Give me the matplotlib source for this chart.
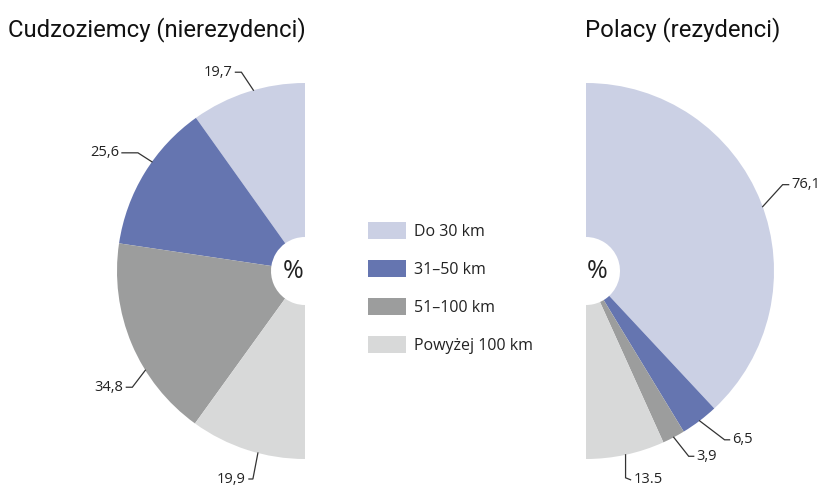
import numpy as np
import matplotlib
matplotlib.use("Agg")
import matplotlib.pyplot as plt

# ---- data ----
categories = ["Do 30 km", "31\u201350 km", "51\u2013100 km", "Powy\u017cej 100 km"]
left_title = "Cudzoziemcy (nierezydenci)"
right_title = "Polacy (rezydenci)"
left_values = [19.7, 25.6, 34.8, 19.9]
right_values = [76.1, 6.5, 3.9, 13.5]
left_labels = ["19,7", "25,6", "34,8", "19,9"]
right_labels = ["76,1", "6,5", "3,9", "13.5"]

# ---- style ----
colors = ["#CBD0E4", "#6575B0", "#9C9D9D", "#D8D9D9"]
W, H = 821, 488
R = 188
HOLE = 34
CY = H - 271
LCX, RCX = 305, 586
TXT = "#222222"

fig = plt.figure(figsize=(W / 100, H / 100), dpi=100)
fig.patch.set_facecolor("white")
ax = fig.add_axes([0, 0, 1, 1])

def half_pie(vals, cx, ccw):
    v = np.asarray(vals, float)
    fr = v / (2 * v.sum())
    wedges, _ = ax.pie(fr, normalize=False, colors=colors, startangle=90,
                       counterclock=ccw, center=(cx, CY), radius=R,
                       wedgeprops=dict(width=R - HOLE, linewidth=0))
    return wedges, fr

lw, lfr = half_pie(left_values, LCX, True)
rw, rfr = half_pie(right_values, RCX, False)

ax.set_xlim(0, W)
ax.set_ylim(0, H)
ax.set_aspect("equal")
ax.axis("off")

# leader lines and labels
def labels(fr, cx, ccw, texts, shifts, elbows, ticks):
    cum = np.cumsum(fr) - fr / 2
    for f, t, sh, (ex, ey), tk in zip(cum, texts, shifts, elbows, ticks):
        ang = 90 + (360 * f if ccw else -360 * f) + sh
        a = np.deg2rad(ang)
        ax_, ay_ = cx + R * np.cos(a), CY + R * np.sin(a)
        bx, by = ax_ + ex, ay_ - ey
        cx2, cy2 = bx + tk[0], by - tk[1]
        ax.plot([ax_, bx, cx2], [ay_, by, cy2], color="#333333", lw=0.9,
                solid_joinstyle="miter")
        sign = 1 if tk[0] > 0 else -1
        ax.text(cx2 + sign * 3, cy2, t, ha="left" if sign > 0 else "right",
                va="center", fontsize=10.5, color=TXT, family="Open Sans")

labels(lfr, LCX, True, left_labels,
       [-1.8, -4, 9, 3.4],
       [(-12, -18), (-14, -9), (-13, 17), (-5, 26)],
       [(-6, 0), (-16, 0), (-6, 0), (-4, 0)])
labels(rfr, RCX, False, right_labels,
       [-1.5, 0, 0, 0],
       [(20, -22), (25, 19), (15, 19), (0, 23)],
       [(6, 0), (5, 0), (5, 0), (5, 2)])

# percent signs
ax.text(LCX - 12, CY - 1, "%", ha="center", va="center", fontsize=18, color=TXT,
        family="Open Sans")
ax.text(RCX + 11, CY - 1, "%", ha="center", va="center", fontsize=18, color=TXT,
        family="Open Sans")

# titles
ax.text(8, H - 30, left_title, ha="left", va="center", fontsize=17.2,
        color="#111111", family="Roboto")
ax.text(585, H - 30, right_title, ha="left", va="center", fontsize=17.2,
        color="#111111", family="Roboto")

# legend
leg = ax.legend(lw, categories, loc="upper left",
                bbox_to_anchor=(368 / W, 1 - 222 / H), frameon=False,
                borderpad=0, borderaxespad=0, handlelength=2.4,
                handleheight=1.25, labelspacing=1.27, handletextpad=0.45,
                prop=dict(family="Open Sans", size=11.5))
for t in leg.get_texts():
    t.set_color(TXT)

fig.savefig("out.png", dpi=100, facecolor="white")
